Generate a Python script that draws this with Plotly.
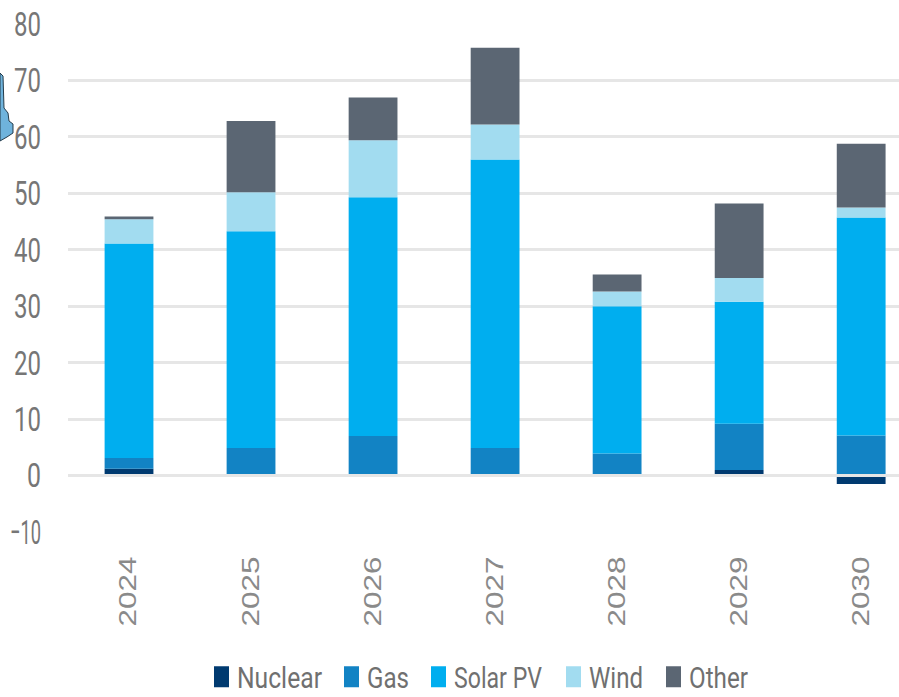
import plotly.graph_objects as go

years = ["2024", "2025", "2026", "2027", "2028", "2029", "2030"]
nuclear = [1.2, 0, 0, 0, 0, 1.0, -1.5]
gas = [1.9, 4.9, 7.0, 4.9, 3.9, 8.2, 7.1]
solar = [38.0, 38.4, 42.3, 51.1, 26.1, 21.6, 38.6]
wind = [4.3, 6.9, 10.1, 6.2, 2.6, 4.2, 1.8]
other = [0.5, 12.6, 7.6, 13.6, 3.0, 13.2, 11.3]

series = [("Nuclear", nuclear, "#003A70"), ("Gas", gas, "#1283C4"),
          ("Solar PV", solar, "#00AEEF"), ("Wind", wind, "#A2DCF0"),
          ("Other", other, "#5B6673")]

W, H = 899, 697
L, R, T, B = 68, 0, 24, 165

# cropped map decoration at the left edge, in page pixels
map_fragment = [(0, 73), (3, 76), (4, 108), (8, 113), (9, 121), (13, 124),
                (13, 133), (7, 137), (0, 141)]

def px(x):
    return (x - L) / (W - L - R)

def py(y):
    return (H - B - y) / (H - T - B)

fig = go.Figure()
for name, vals, col in series:
    fig.add_bar(x=years, y=vals, name=name, marker=dict(color=col, line=dict(width=0)))

path = "M" + " L".join(f"{px(x):.4f},{py(y):.4f}" for x, y in map_fragment) + " Z"
fig.add_shape(type="path", path=path, xref="paper", yref="paper",
              fillcolor="#6FB3DC", line=dict(color="#243B4A", width=1), layer="above")
fig.add_shape(type="line", xref="paper", x0=0, x1=1, y0=0, y1=0,
              line=dict(color="#E6E6E6", width=3), layer="above")

fig.update_layout(
    width=W, height=H, barmode="relative", bargap=0.6,
    paper_bgcolor="white", plot_bgcolor="white",
    margin=dict(l=L, r=R, t=T, b=B, autoexpand=False),
    font=dict(family="Roboto", color="#767676"),
    legend=dict(orientation="h", x=0.158, xanchor="left", y=-0.285, yanchor="middle",
                font=dict(size=29, family="Roboto", color="#707070"),
                itemwidth=30),
)
fig.update_xaxes(range=[-0.5, 6.31], type="category", tickangle=-90, showline=False, showgrid=False,
                 ticks="", ticklabelstandoff=19, automargin=False,
                 tickfont=dict(family="Liberation Sans", size=23, color="#8a8a8a"))
fig.update_yaxes(range=[-10, 80], dtick=10, showgrid=True, gridcolor="#E6E6E6", gridwidth=3,
                 zeroline=False, ticks="", automargin=False,
                 showline=False, ticklabelstandoff=26,
                 tickfont=dict(family="Roboto", size=34, color="#767676"))

post = """
document.body.style.margin = '0';
document.documentElement.style.overflow = 'hidden';
var gd = document.getElementsByClassName('plotly-graph-div')[0];
gd.querySelectorAll('.ytick text').forEach(function(t){
  var n = t.textContent.replace(/[^0-9]/g,'').length;
  t.setAttribute('textLength', n===1 ? 14 : (t.textContent.length>2 ? 31 : 27));
  t.setAttribute('lengthAdjust','spacingAndGlyphs');
});
gd.querySelectorAll('.xtick text').forEach(function(t){
  t.setAttribute('textLength', 70);
  t.setAttribute('lengthAdjust','spacingAndGlyphs');
});
var swatchX = [214, 344, 431, 566, 666], textW = [85, 42, 88, 54, 59];
var leg = gd.querySelector('.legend');
var lx = leg.getCTM().e;
leg.querySelectorAll('.traces').forEach(function(tr, i){
  var m = /translate\\(([^,]+),\\s*([^)]+)\\)/.exec(tr.getAttribute('transform'));
  tr.setAttribute('transform', 'translate(' + (swatchX[i] - lx - 12.5) + ',' + m[2] + ')');
  var p = tr.querySelector('.legendpoints path');
  p.setAttribute('transform', (p.getAttribute('transform') || '') + ' scale(1.25,1.75)');
  var t = tr.querySelector('.legendtext');
  t.setAttribute('x', 35.5);
  t.setAttribute('textLength', textW[i]);
  t.setAttribute('lengthAdjust', 'spacingAndGlyphs');
});
"""
fig.write_html("out.html", post_script=post, config={"displayModeBar": False})
